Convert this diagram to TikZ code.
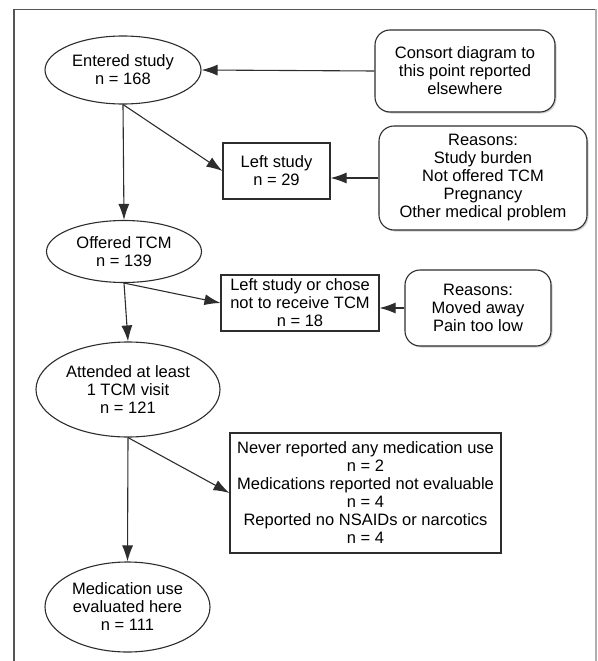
\documentclass[tikz,border=0pt]{standalone}
\usepackage{fontspec}
\setmainfont{Liberation Sans}
\usetikzlibrary{positioning,shapes.geometric,shadows,arrows.meta}
\definecolor{frameColor}{RGB}{85,85,85}
\definecolor{frameLight}{RGB}{175,175,175}
\definecolor{edgeColor}{RGB}{45,45,45}
\tikzstyle{flowChart} = [x = 1pt, y = -1pt, font=\fontsize{16.5}{18}\selectfont]
\tikzstyle{stageEllipse} = [draw=edgeColor, ellipse, line width=1.1pt, align=center, inner sep=0pt, fill=white]
\tikzstyle{countBox} = [draw=edgeColor, rectangle, line width=1.1pt, align=center, inner sep=0pt, fill=white]
\tikzstyle{noteBox} = [draw=edgeColor, rectangle, rounded corners = 15pt, line width=1.1pt, align=center, inner sep=0pt, fill=white, drop shadow={shadow xshift=1.5pt, shadow yshift=-1.5pt, opacity=0.35}]
\tikzstyle{flowArrow} = [-{Latex[length=16pt, width=11pt]}, line width=1.1pt, draw=edgeColor]
\begin{document}
\begin{tikzpicture}[flowChart]
  \useasboundingbox (0,0) rectangle (597,661);
  \draw [frameColor, line width=1.5pt] (14,661) -- (14,9.5) -- (596,9.5);
  \draw [frameLight, line width=1.2pt] (596,9.5) -- (596,661);

  \node [stageEllipse, minimum width=156pt, minimum height=68pt] (entered) at (123,70) {Entered study\\n = 168};
  \node [noteBox, minimum width=180pt, minimum height=82pt] (consort) at (465,71) {Consort diagram to\\this point reported\\elsewhere};
  \node [countBox, minimum width=107pt, minimum height=56pt] (leftStudy) at (276.5,171) {Left study\\n = 29};
  \node [noteBox, minimum width=208pt, minimum height=104pt] (reasonsOne) at (483,178) {Reasons:\\Study burden\\Not offered TCM\\Pregnancy\\Other medical problem};
  \node [stageEllipse, minimum width=155pt, minimum height=62pt] (offered) at (124,251.5) {Offered TCM\\n = 139};
  \node [countBox, minimum width=158pt, minimum height=56pt] (leftTcm) at (300,303) {Left study or chose\\not to receive TCM\\n = 18};
  \node [noteBox, minimum width=146pt, minimum height=76pt] (reasonsTwo) at (478,308) {Reasons:\\Moved away\\Pain too low};
  \node [stageEllipse, minimum width=184pt, minimum height=95pt] (attended) at (128,389.5) {Attended at least\\1 TCM visit\\n = 121};
  \node [countBox, minimum width=271pt, minimum height=120pt] (neverBox) at (365.5,493) {Never reported any medication use\\n = 2\\Medications reported not evaluable\\n = 4\\Reported no NSAIDs or narcotics\\n = 4};
  \node [stageEllipse, minimum width=165pt, minimum height=90pt] (medication) at (127.5,607) {Medication use\\evaluated here\\n = 111};

  \draw [flowArrow] (consort.west) -- (entered.east);
  \draw [flowArrow] (entered.south) -- (offered.north);
  \draw [flowArrow] (entered.south) -- (leftStudy.west);
  \draw [flowArrow] (reasonsOne.west) -- (reasonsOne.west -| leftStudy.east);
  \draw [flowArrow] (offered.south) -- (attended.north);
  \draw [flowArrow] (offered.south) -- (leftTcm.west);
  \draw [flowArrow] (reasonsTwo.west) -- (reasonsTwo.west -| leftTcm.east);
  \draw [flowArrow] (attended.south) -- (medication.north);
  \draw [flowArrow] (attended.south) -- (neverBox.west);
\end{tikzpicture}
\end{document}
